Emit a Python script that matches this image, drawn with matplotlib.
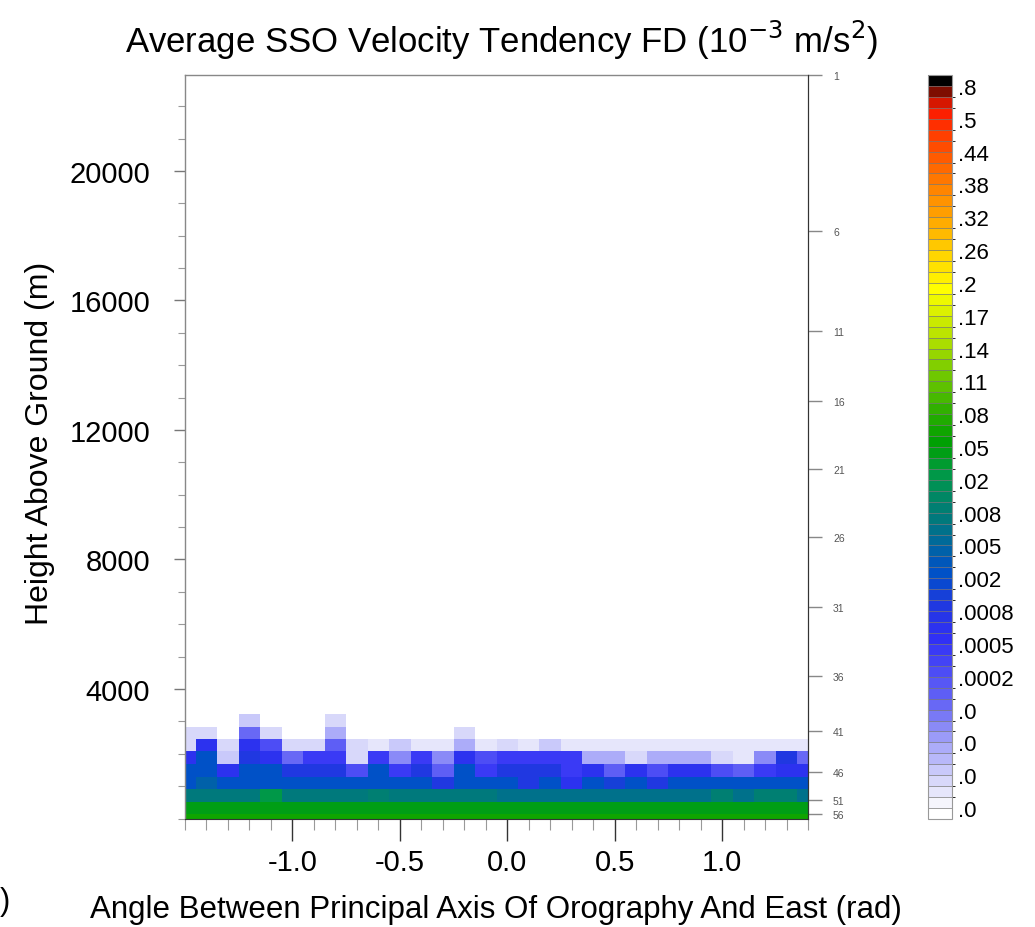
import numpy as np
import matplotlib
matplotlib.use("Agg")
import matplotlib.pyplot as plt
from matplotlib.colors import ListedColormap, LinearSegmentedColormap, BoundaryNorm
from matplotlib.ticker import MultipleLocator

plt.rcParams['font.family'] = ['Liberation Sans', 'DejaVu Sans']
plt.rcParams['axes.unicode_minus'] = False

# bin centres of the angle (rad) and edges of the height bins (m)
angles = [-1.5, -1.4, -1.3, -1.2, -1.1, -1.0, -0.9, -0.8, -0.7, -0.6,
          -0.5, -0.4, -0.3, -0.2, -0.1, 0.0, 0.1, 0.2, 0.3, 0.4,
          0.5, 0.6, 0.7, 0.8, 0.9, 1.0, 1.1, 1.2, 1.3, 1.4]
height_edges = [0, 140, 520, 900, 1290, 1680, 2070, 2450, 2840, 3230]

# tendency (10^-3 m/s2), one list per height bin, lowest first
row0 = [0.065] * 30
row1 = [0.045] * 30
row2 = [0.0075, 0.0075, 0.0075, 0.0075, 0.025, 0.0075, 0.0075, 0.0075, 0.0075, 0.009,
        0.0075, 0.0075, 0.0075, 0.0075, 0.0075, 0.0065, 0.0065, 0.0065, 0.0065, 0.0065,
        0.0065, 0.0065, 0.0065, 0.0065, 0.0065, 0.009, 0.0065, 0.009, 0.009, 0.0065]
row3 = [0.0025, 0.0045, 0.0025, 0.0025, 0.0025, 0.0025, 0.0025, 0.0025, 0.0025, 0.0025,
        0.0025, 0.0025, 0.0009, 0.0025, 0.0025, 0.0025, 0.0009, 0.0025, 0.00065, 0.0025,
        0.0012, 0.0025, 0.0009, 0.0025, 0.0025, 0.0025, 0.0025, 0.0025, 0.0025, 0.0025]
row4 = [0.0025, 0.0025, 0.00065, 0.0025, 0.0025, 0.0009, 0.0009, 0.0009, 0.00025, 0.0025,
        0.00045, 0.0009, 0.00015, 0.0025, 0.00045, 0.0009, 0.0009, 0.0009, 0.00045, 0.00065,
        0.00015, 0.00065, 0.00025, 0.00065, 0.00065, 0.00025, 0.00015, 0.00045, 0.00065, 0.00065]
row5 = [0.00065, 0.0025, 0.000045, 0.0009, 0.00065, 0.00012, 0.00045, 0.00045, 0.000035, 0.00045,
        0.000085, 0.00045, 0.000085, 0.00065, 0.00025, 0.00045, 0.00045, 0.00045, 0.00045, 0.000065,
        0.000065, 0.000035, 0.000065, 0.000065, 0.000065, 0.000035, 0.000025, 0.000085, 0.0009, 0.00012]
row6 = [0.000035, 0.00065, 0.000035, 0.00065, 0.00025, 0.000035, 0.000035, 0.00015, 0.000035, 0.000025,
        0.000045, 0.000025, 0.000025, 0.000065, 0.000025, 0.000035, 0.000025, 0.000045, 0.000025, 0.000025,
        0.000025, 0.000025, 0.000025, 0.000025, 0.000025, 0.000025, 0.000025, 0.000025, 0.000025, 0.000025]
row7 = [0.000035, 0.000035, 0, 0.00012, 0.000035, 0, 0, 0.000065, 0, 0,
        0, 0, 0, 0.000035, 0, 0, 0, 0, 0, 0,
        0, 0, 0, 0, 0, 0, 0, 0, 0, 0]
row8 = [0, 0, 0, 0.000045, 0, 0, 0, 0.000035, 0, 0,
        0, 0, 0, 0, 0, 0, 0, 0, 0, 0,
        0, 0, 0, 0, 0, 0, 0, 0, 0, 0]
tendency = np.array([row0, row1, row2, row3, row4, row5, row6, row7, row8])

# model level numbers shown on the right axis and their heights (m)
level_ids = [1, 6, 11, 16, 21, 26, 31, 36, 41, 46, 51, 56]
level_heights = [22965, 18150, 15060, 12900, 10800, 8700, 6530, 4400, 2700, 1440, 570, 140]

# contour levels of the colour bar
levels = [0.00001, 0.00002, 0.00003, 0.00004, 0.00005, 0.00006, 0.00007, 0.00008, 0.00009, 0.0001,
          0.00013, 0.00017, 0.0002, 0.0003, 0.0004, 0.0005, 0.0006, 0.0007, 0.0008, 0.001,
          0.0015, 0.002, 0.003, 0.004, 0.005, 0.006, 0.007, 0.008, 0.01, 0.015,
          0.02, 0.03, 0.04, 0.05, 0.06, 0.07, 0.08, 0.09, 0.10, 0.11,
          0.12, 0.13, 0.14, 0.15, 0.16, 0.17, 0.18, 0.19, 0.2, 0.22,
          0.24, 0.26, 0.28, 0.30, 0.32, 0.34, 0.36, 0.38, 0.40, 0.42,
          0.44, 0.46, 0.48, 0.5, 0.6, 0.7, 0.8]
level_labels = ['.0', '.0', '.0', '.0', '.0002', '.0005', '.0008', '.002', '.005', '.008',
                '.02', '.05', '.08', '.11', '.14', '.17', '.2', '.26', '.32', '.38',
                '.44', '.5', '.8']

# colour table (white - blue - green - yellow - red, black on top)
anchors = [(0, '#ffffff'), (1, '#f2f2fb'), (4, '#c8c8fa'), (10, '#6868f5'), (16, '#3030f5'),
           (19, '#2038e0'), (22, '#0050c8'), (25, '#006a98'), (28, '#008070'), (31, '#009848'),
           (34, '#00a000'), (37, '#30b000'), (40, '#70c800'), (43, '#a8dc00'), (48, '#ffff00'),
           (52, '#ffc800'), (55, '#ffa000'), (58, '#ff7800'), (61, '#ff5000'), (64, '#ff2000'),
           (65, '#e01800'), (66, '#a01000'), (67, '#000000')]
ncol = len(levels) + 1
base = LinearSegmentedColormap.from_list('wbgyr', [(i / (ncol - 1), c) for i, c in anchors])
cmap = ListedColormap([base(i / (ncol - 1)) for i in range(ncol)])
cmap.set_under('white')
cmap.set_over('black')
norm = BoundaryNorm(levels, ncolors=ncol, extend='both')

ang = np.array(angles)
angle_edges = np.append(ang - 0.05, ang[-1] + 0.05)

fig = plt.figure(figsize=(10.35, 9.28), dpi=100)
ax = fig.add_axes([185 / 1035, 1 - 819.5 / 928, 623 / 1035, 743.5 / 928])
mesh = ax.pcolormesh(angle_edges, height_edges, tendency, cmap=cmap, norm=norm)

ax.set_xlim(-1.5, 1.4)
ax.set_ylim(0, level_heights[0])
ax.set_xticks([-1.0, -0.5, 0.0, 0.5, 1.0], labels=['-1.0', '-0.5', '0.0', '0.5', '1.0'])
ax.xaxis.set_minor_locator(MultipleLocator(0.1))
ax.set_yticks([4000, 8000, 12000, 16000, 20000])
ax.yaxis.set_minor_locator(MultipleLocator(1000))
ax.tick_params(axis='x', which='major', direction='out', length=16, width=1, pad=5,
               labelsize=21, color='#333')
ax.tick_params(axis='x', which='minor', direction='out', length=8, width=0.8, color='#999')
ax.tick_params(axis='y', which='major', direction='out', length=8, width=1, pad=17,
               labelsize=21, color='#777')
ax.tick_params(axis='y', which='minor', direction='out', length=5, width=0.8, color='#999')
for s in ['left', 'top']:
    ax.spines[s].set_color('#888')
    ax.spines[s].set_linewidth(1)
ax.spines['right'].set_color('#333')
ax.spines['bottom'].set_color('#333')

ax2 = ax.twinx()
ax2.set_ylim(ax.get_ylim())
ax2.set_yticks(level_heights, labels=[str(i) for i in level_ids])
ax2.tick_params(axis='y', direction='out', length=10, width=1, pad=8, labelsize=7.5,
                color='#888', labelcolor='#555')
for t in ax2.yaxis.get_major_ticks()[-2:]:
    t.tick2line.set_color('black')
for s in ['left', 'top', 'bottom']:
    ax2.spines[s].set_visible(False)
ax2.spines['right'].set_color('#333')

cax = fig.add_axes([928 / 1035, 1 - 820 / 928, 24 / 1035, 744 / 928])
cbar = fig.colorbar(mesh, cax=cax, extend='both', extendrect=True, extendfrac='auto',
                    drawedges=True)
cbar.set_ticks(levels[::3], labels=level_labels)
cbar.ax.tick_params(length=0, pad=4, labelsize=16)
cbar.outline.set_edgecolor('#999')
cbar.outline.set_linewidth(0.8)
cbar.dividers.set_color('#777')
cbar.dividers.set_linewidth(0.5)

fig.text(502 / 1035, 1 - 40 / 928, 'Average SSO Velocity Tendency FD (10$^{-3}$ m/s$^{2}$)',
         ha='center', va='center', fontsize=25)
fig.text(496 / 1035, 1 - 910 / 928, 'Angle Between Principal Axis Of Orography And East (rad)',
         ha='center', va='center', fontsize=22.5)
fig.text(40 / 1035, 1 - 443 / 928, 'Height Above Ground (m)',
         ha='center', va='center', rotation=90, fontsize=23)
fig.text(0.0, 1 - 902 / 928, ')', ha='left', va='center', fontsize=22)

fig.savefig('out.png', dpi=100)
